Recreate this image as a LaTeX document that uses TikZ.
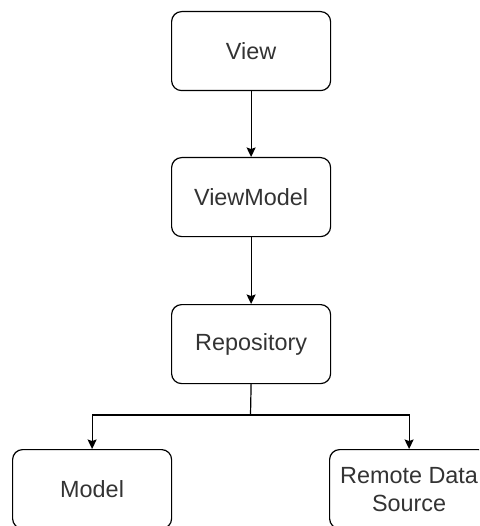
\documentclass[tikz,border=0pt]{standalone}
\usepackage{fontspec}
\setmainfont{Liberation Sans}
\usetikzlibrary{arrows.meta}
\definecolor{ink}{RGB}{51,51,51}
\begin{document}
\begin{tikzpicture}[x=1pt,y=-1pt,
  box/.style={draw=black, line width=1.2pt, rounded corners=10pt,
    minimum width=159pt, minimum height=79pt, inner sep=0pt,
    font=\fontsize{23.4pt}{28pt}\selectfont, text=ink, align=center,
    anchor=north west},
  tip/.tip={Stealth[length=9.5pt,width=9pt,inset=1.5pt]},
  wire/.style={draw=black, line width=1.2pt},
  link/.style={wire, -tip}]
\clip (0,0) rectangle (479,526);
\fill[white] (0,0) rectangle (479,526);

% layered stack
\node[box] (view)   at (171,11)  {View};
\node[box] (vm)     at (171,157) {ViewModel};
\node[box] (repo)   at (171,304) {Repository};
\node[box] (model)  at (12,449)  {Model};
\node[box] (remote) at (329,449) {Remote Data\\Source};

% dependencies
\draw[link] (view) -- (vm);
\draw[link] (vm) -- (repo);
\coordinate (fork) at (250.5,415);
\draw[wire, line cap=rect] (repo.south) -- (fork);
\draw[wire, tip-tip] (model.north) |- (fork) -| (remote.north);
\end{tikzpicture}
\end{document}
